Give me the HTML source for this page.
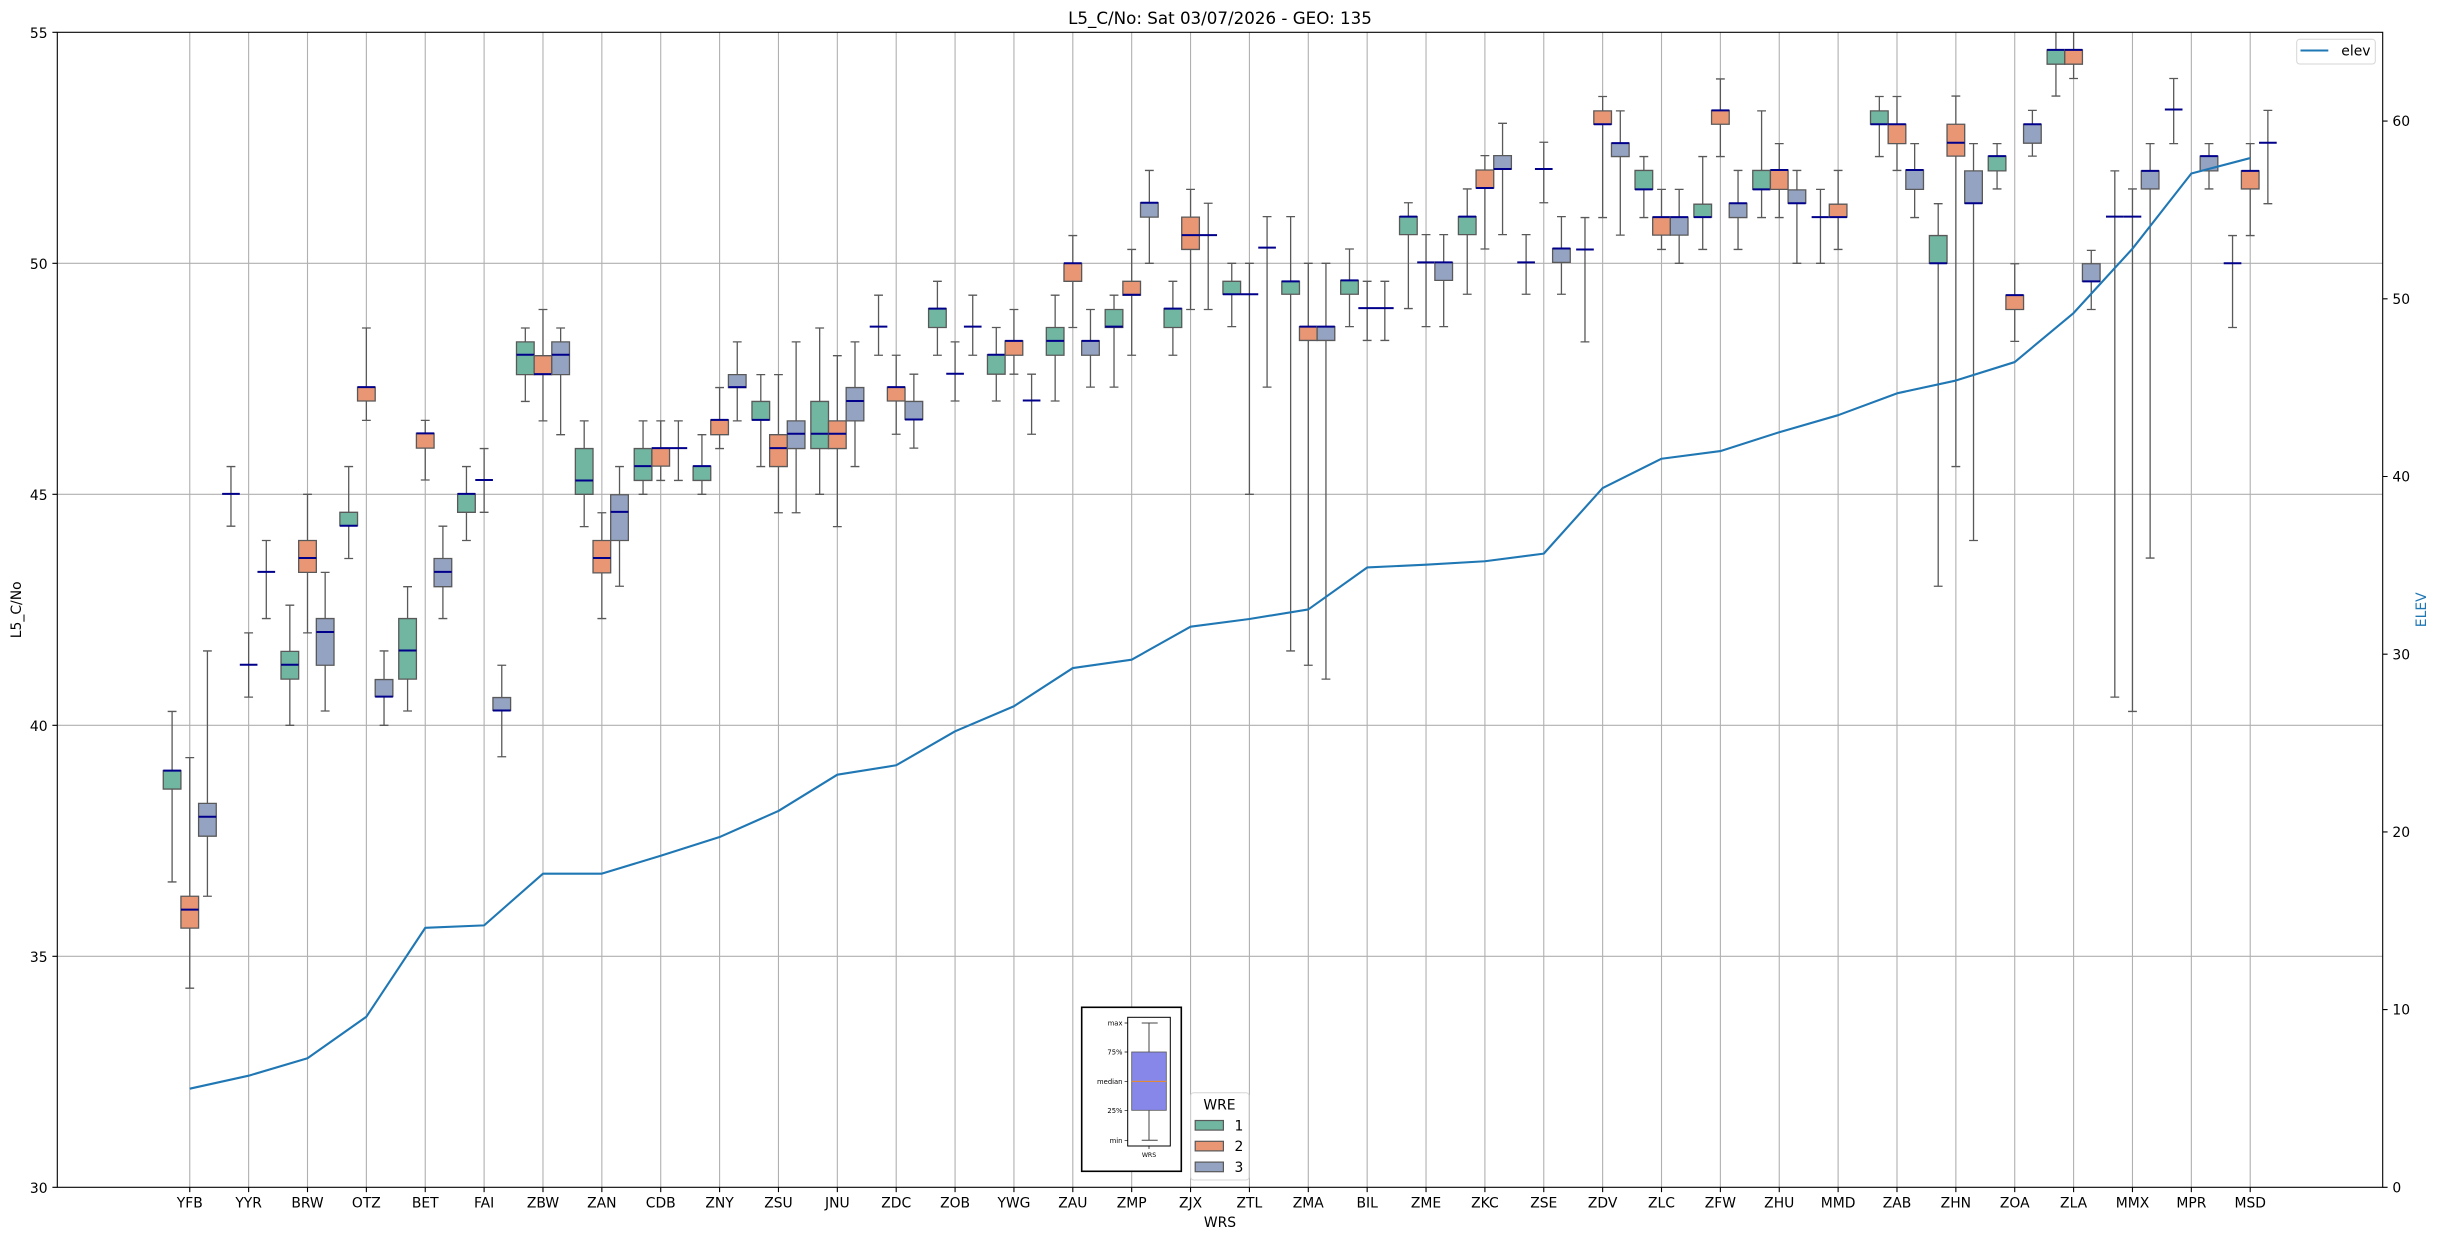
<!DOCTYPE html>
<html><head><meta charset="utf-8"><style>
html,body{margin:0;padding:0;background:#fff;}
svg{display:block;}
text{font-family:"DejaVu Sans","Liberation Sans",sans-serif;fill:#000;}
.w{fill:none;stroke:#595959;stroke-width:1.3px;vector-effect:non-scaling-stroke;}
.r1,.r2,.r3{stroke:#595959;stroke-width:1.3px;vector-effect:non-scaling-stroke;}
.r1{fill:#71b6a1}.r2{fill:#e99675}.r3{fill:#95a3c3}
.m{fill:none;stroke:#00008b;stroke-width:2px;vector-effect:non-scaling-stroke;}
.g{fill:none;stroke:#b0b0b0;stroke-width:1.1px;vector-effect:non-scaling-stroke;}
.t{fill:none;stroke:#000;stroke-width:1.1px;vector-effect:non-scaling-stroke;}
.el{fill:none;stroke:#1f77b4;stroke-width:2.1px;vector-effect:non-scaling-stroke;stroke-linejoin:round;}
</style></head><body>
<svg width="2438" height="1240" viewBox="0 0 2438 1240" xmlns="http://www.w3.org/2000/svg">
<defs><clipPath id="c"><rect x="57.3" y="32.3" width="2325.4" height="1155"/></clipPath></defs>
<rect width="2438" height="1240" fill="#fff"/>

<!-- horizontal grid -->
<path d="M57.3 263.3H2382.7M57.3 494.3H2382.7M57.3 725.3H2382.7M57.3 956.3H2382.7" stroke="#b0b0b0" stroke-width="1.1" fill="none"/>

<g clip-path="url(#c)">
<g transform="translate(189.76 2573.3) scale(58.87 -46.2)">
<path class="g" d="M0 30V55M1 30V55M2 30V55M3 30V55M4 30V55M5 30V55M6 30V55M7 30V55M8 30V55M9 30V55M10 30V55M11 30V55M12 30V55M13 30V55M14 30V55M15 30V55M16 30V55M17 30V55M18 30V55M19 30V55M20 30V55M21 30V55M22 30V55M23 30V55M24 30V55M25 30V55M26 30V55M27 30V55M28 30V55M29 30V55M30 30V55M31 30V55M32 30V55M33 30V55M34 30V55M35 30V55"/>

<!-- 0 YFB -->
<g transform="translate(-0.3 0)"><path class="w" d="M0 36.61V38.62M0 39.02V40.3M-.075 36.61H.075M-.075 40.3H.075"/><rect class="r1" x="-.15" y="38.62" width=".3" height=".4"/><path class="m" d="M-.15 39.02H.15"/></g>
<g transform="translate(0 0)"><path class="w" d="M0 34.31V35.61M0 36.3V39.3M-.075 34.31H.075M-.075 39.3H.075"/><rect class="r2" x="-.15" y="35.61" width=".3" height=".69"/><path class="m" d="M-.15 36.01H.15"/></g>
<g transform="translate(0.3 0)"><path class="w" d="M0 36.3V37.6M0 38.31V41.61M-.075 36.3H.075M-.075 41.61H.075"/><rect class="r3" x="-.15" y="37.6" width=".3" height=".71"/><path class="m" d="M-.15 38.02H.15"/></g>
<!-- 1 YYR -->
<g transform="translate(0.7 0)"><path class="w" d="M0 44.31V45.6M-.075 44.31H.075M-.075 45.6H.075"/><path class="m" d="M-.15 45.01H.15"/></g>
<g transform="translate(1 0)"><path class="w" d="M0 40.61V42M-.075 40.61H.075M-.075 42H.075"/><path class="m" d="M-.15 41.31H.15"/></g>
<g transform="translate(1.3 0)"><path class="w" d="M0 42.31V44M-.075 42.31H.075M-.075 44H.075"/><path class="m" d="M-.15 43.32H.15"/></g>
<!-- 2 BRW -->
<g transform="translate(1.7 0)"><path class="w" d="M0 40V41M0 41.6V42.6M-.075 40H.075M-.075 42.6H.075"/><rect class="r1" x="-.15" y="41" width=".3" height=".6"/><path class="m" d="M-.15 41.31H.15"/></g>
<g transform="translate(2 0)"><path class="w" d="M0 42V43.31M0 44V45M-.075 42H.075M-.075 45H.075"/><rect class="r2" x="-.15" y="43.31" width=".3" height=".69"/><path class="m" d="M-.15 43.62H.15"/></g>
<g transform="translate(2.3 0)"><path class="w" d="M0 40.31V41.3M0 42.31V43.31M-.075 40.31H.075M-.075 43.31H.075"/><rect class="r3" x="-.15" y="41.3" width=".3" height="1.01"/><path class="m" d="M-.15 42.02H.15"/></g>
<!-- 3 OTZ -->
<g transform="translate(2.7 0)"><path class="w" d="M0 43.61V44.32M0 44.61V45.6M-.075 43.61H.075M-.075 45.6H.075"/><rect class="r1" x="-.15" y="44.32" width=".3" height=".29"/><path class="m" d="M-.15 44.32H.15"/></g>
<g transform="translate(3 0)"><path class="w" d="M0 46.6V47.02M0 47.32V48.6M-.075 46.6H.075M-.075 48.6H.075"/><rect class="r2" x="-.15" y="47.02" width=".3" height=".3"/><path class="m" d="M-.15 47.32H.15"/></g>
<g transform="translate(3.3 0)"><path class="w" d="M0 40V40.62M0 40.99V41.61M-.075 40H.075M-.075 41.61H.075"/><rect class="r3" x="-.15" y="40.62" width=".3" height=".37"/><path class="m" d="M-.15 40.62H.15"/></g>
<!-- 4 BET -->
<g transform="translate(3.7 0)"><path class="w" d="M0 40.31V41M0 42.31V43M-.075 40.31H.075M-.075 43H.075"/><rect class="r1" x="-.15" y="41" width=".3" height="1.31"/><path class="m" d="M-.15 41.62H.15"/></g>
<g transform="translate(4 0)"><path class="w" d="M0 45.31V46M0 46.32V46.6M-.075 45.31H.075M-.075 46.6H.075"/><rect class="r2" x="-.15" y="46" width=".3" height=".32"/><path class="m" d="M-.15 46.32H.15"/></g>
<g transform="translate(4.3 0)"><path class="w" d="M0 42.31V43M0 43.61V44.31M-.075 42.31H.075M-.075 44.31H.075"/><rect class="r3" x="-.15" y="43" width=".3" height=".61"/><path class="m" d="M-.15 43.32H.15"/></g>
<!-- 5 FAI -->
<g transform="translate(4.7 0)"><path class="w" d="M0 44V44.61M0 45.01V45.6M-.075 44H.075M-.075 45.6H.075"/><rect class="r1" x="-.15" y="44.61" width=".3" height=".4"/><path class="m" d="M-.15 45.01H.15"/></g>
<g transform="translate(5 0)"><path class="w" d="M0 44.61V45.99M-.075 44.61H.075M-.075 45.99H.075"/><path class="m" d="M-.15 45.31H.15"/></g>
<g transform="translate(5.3 0)"><path class="w" d="M0 39.32V40.32M0 40.6V41.3M-.075 39.32H.075M-.075 41.3H.075"/><rect class="r3" x="-.15" y="40.32" width=".3" height=".28"/><path class="m" d="M-.15 40.32H.15"/></g>
<!-- 6 ZBW -->
<g transform="translate(5.7 0)"><path class="w" d="M0 47.01V47.59M0 48.3V48.6M-.075 47.01H.075M-.075 48.6H.075"/><rect class="r1" x="-.15" y="47.59" width=".3" height=".71"/><path class="m" d="M-.15 48.02H.15"/></g>
<g transform="translate(6 0)"><path class="w" d="M0 46.59V47.59M0 48V49M-.075 46.59H.075M-.075 49H.075"/><rect class="r2" x="-.15" y="47.59" width=".3" height=".41"/><path class="m" d="M-.15 47.6H.15"/></g>
<g transform="translate(6.3 0)"><path class="w" d="M0 46.29V47.59M0 48.3V48.6M-.075 46.29H.075M-.075 48.6H.075"/><rect class="r3" x="-.15" y="47.59" width=".3" height=".71"/><path class="m" d="M-.15 48.02H.15"/></g>
<!-- 7 ZAN -->
<g transform="translate(6.7 0)"><path class="w" d="M0 44.3V45M0 45.99V46.59M-.075 44.3H.075M-.075 46.59H.075"/><rect class="r1" x="-.15" y="45" width=".3" height=".99"/><path class="m" d="M-.15 45.3H.15"/></g>
<g transform="translate(7 0)"><path class="w" d="M0 42.31V43.3M0 44V44.6M-.075 42.31H.075M-.075 44.6H.075"/><rect class="r2" x="-.15" y="43.3" width=".3" height=".7"/><path class="m" d="M-.15 43.62H.15"/></g>
<g transform="translate(7.3 0)"><path class="w" d="M0 43.01V44M0 44.99V45.6M-.075 43.01H.075M-.075 45.6H.075"/><rect class="r3" x="-.15" y="44" width=".3" height=".99"/><path class="m" d="M-.15 44.62H.15"/></g>
<!-- 8 CDB -->
<g transform="translate(7.7 0)"><path class="w" d="M0 45V45.3M0 45.99V46.59M-.075 45H.075M-.075 46.59H.075"/><rect class="r1" x="-.15" y="45.3" width=".3" height=".69"/><path class="m" d="M-.15 45.61H.15"/></g>
<g transform="translate(8 0)"><path class="w" d="M0 45.3V45.61M0 46V46.59M-.075 45.3H.075M-.075 46.59H.075"/><rect class="r2" x="-.15" y="45.61" width=".3" height=".39"/><path class="m" d="M-.15 46H.15"/></g>
<g transform="translate(8.3 0)"><path class="w" d="M0 45.3V46.59M-.075 45.3H.075M-.075 46.59H.075"/><path class="m" d="M-.15 46H.15"/></g>
<!-- 9 ZNY -->
<g transform="translate(8.7 0)"><path class="w" d="M0 45V45.3M0 45.61V46.29M-.075 45H.075M-.075 46.29H.075"/><rect class="r1" x="-.15" y="45.3" width=".3" height=".31"/><path class="m" d="M-.15 45.61H.15"/></g>
<g transform="translate(9 0)"><path class="w" d="M0 45.99V46.29M0 46.61V47.31M-.075 45.99H.075M-.075 47.31H.075"/><rect class="r2" x="-.15" y="46.29" width=".3" height=".32"/><path class="m" d="M-.15 46.61H.15"/></g>
<g transform="translate(9.3 0)"><path class="w" d="M0 46.59V47.31M0 47.59V48.3M-.075 46.59H.075M-.075 48.3H.075"/><rect class="r3" x="-.15" y="47.31" width=".3" height=".28"/><path class="m" d="M-.15 47.32H.15"/></g>
<!-- 10 ZSU -->
<g transform="translate(9.7 0)"><path class="w" d="M0 45.6V46.61M0 47.01V47.59M-.075 45.6H.075M-.075 47.59H.075"/><rect class="r1" x="-.15" y="46.61" width=".3" height=".4"/><path class="m" d="M-.15 46.61H.15"/></g>
<g transform="translate(10 0)"><path class="w" d="M0 44.6V45.6M0 46.29V47.59M-.075 44.6H.075M-.075 47.59H.075"/><rect class="r2" x="-.15" y="45.6" width=".3" height=".69"/><path class="m" d="M-.15 46H.15"/></g>
<g transform="translate(10.3 0)"><path class="w" d="M0 44.6V45.99M0 46.59V48.3M-.075 44.6H.075M-.075 48.3H.075"/><rect class="r3" x="-.15" y="45.99" width=".3" height=".6"/><path class="m" d="M-.15 46.31H.15"/></g>
<!-- 11 JNU -->
<g transform="translate(10.7 0)"><path class="w" d="M0 45V45.99M0 47.01V48.6M-.075 45H.075M-.075 48.6H.075"/><rect class="r1" x="-.15" y="45.99" width=".3" height="1.02"/><path class="m" d="M-.15 46.31H.15"/></g>
<g transform="translate(11 0)"><path class="w" d="M0 44.3V45.99M0 46.59V48M-.075 44.3H.075M-.075 48H.075"/><rect class="r2" x="-.15" y="45.99" width=".3" height=".6"/><path class="m" d="M-.15 46.31H.15"/></g>
<g transform="translate(11.3 0)"><path class="w" d="M0 45.6V46.59M0 47.31V48.3M-.075 45.6H.075M-.075 48.3H.075"/><rect class="r3" x="-.15" y="46.59" width=".3" height=".72"/><path class="m" d="M-.15 47.02H.15"/></g>
<!-- 12 ZDC -->
<g transform="translate(11.7 0)"><path class="w" d="M0 48.01V49.31M-.075 48.01H.075M-.075 49.31H.075"/><path class="m" d="M-.15 48.63H.15"/></g>
<g transform="translate(12 0)"><path class="w" d="M0 46.3V47.02M0 47.32V48.01M-.075 46.3H.075M-.075 48.01H.075"/><rect class="r2" x="-.15" y="47.02" width=".3" height=".3"/><path class="m" d="M-.15 47.32H.15"/></g>
<g transform="translate(12.3 0)"><path class="w" d="M0 46V46.62M0 47.01V47.6M-.075 46H.075M-.075 47.6H.075"/><rect class="r3" x="-.15" y="46.62" width=".3" height=".39"/><path class="m" d="M-.15 46.62H.15"/></g>
<!-- 13 ZOB -->
<g transform="translate(12.7 0)"><path class="w" d="M0 48.01V48.61M0 49.02V49.61M-.075 48.01H.075M-.075 49.61H.075"/><rect class="r1" x="-.15" y="48.61" width=".3" height=".41"/><path class="m" d="M-.15 49.02H.15"/></g>
<g transform="translate(13 0)"><path class="w" d="M0 47.02V48.3M-.075 47.02H.075M-.075 48.3H.075"/><path class="m" d="M-.15 47.61H.15"/></g>
<g transform="translate(13.3 0)"><path class="w" d="M0 48.01V49.31M-.075 48.01H.075M-.075 49.31H.075"/><path class="m" d="M-.15 48.63H.15"/></g>
<!-- 14 YWG -->
<g transform="translate(13.7 0)"><path class="w" d="M0 47.02V47.6M0 48.02V48.61M-.075 47.02H.075M-.075 48.61H.075"/><rect class="r1" x="-.15" y="47.6" width=".3" height=".42"/><path class="m" d="M-.15 48.02H.15"/></g>
<g transform="translate(14 0)"><path class="w" d="M0 47.6V48.01M0 48.32V49M-.075 47.6H.075M-.075 49H.075"/><rect class="r2" x="-.15" y="48.01" width=".3" height=".31"/><path class="m" d="M-.15 48.32H.15"/></g>
<g transform="translate(14.3 0)"><path class="w" d="M0 46.3V47.6M-.075 46.3H.075M-.075 47.6H.075"/><path class="m" d="M-.15 47.03H.15"/></g>
<!-- 15 ZAU -->
<g transform="translate(14.7 0)"><path class="w" d="M0 47.02V48.01M0 48.61V49.31M-.075 47.02H.075M-.075 49.31H.075"/><rect class="r1" x="-.15" y="48.01" width=".3" height=".6"/><path class="m" d="M-.15 48.32H.15"/></g>
<g transform="translate(15 0)"><path class="w" d="M0 48.61V49.61M0 50V50.6M-.075 48.61H.075M-.075 50.6H.075"/><rect class="r2" x="-.15" y="49.61" width=".3" height=".39"/><path class="m" d="M-.15 50H.15"/></g>
<g transform="translate(15.3 0)"><path class="w" d="M0 47.32V48.01M0 48.32V49M-.075 47.32H.075M-.075 49H.075"/><rect class="r3" x="-.15" y="48.01" width=".3" height=".31"/><path class="m" d="M-.15 48.32H.15"/></g>
<!-- 16 ZMP -->
<g transform="translate(15.7 0)"><path class="w" d="M0 47.32V48.61M0 49V49.31M-.075 47.32H.075M-.075 49.31H.075"/><rect class="r1" x="-.15" y="48.61" width=".3" height=".39"/><path class="m" d="M-.15 48.63H.15"/></g>
<g transform="translate(16 0)"><path class="w" d="M0 48.01V49.31M0 49.61V50.3M-.075 48.01H.075M-.075 50.3H.075"/><rect class="r2" x="-.15" y="49.31" width=".3" height=".3"/><path class="m" d="M-.15 49.32H.15"/></g>
<g transform="translate(16.3 0)"><path class="w" d="M0 50V51M0 51.31V52.01M-.075 50H.075M-.075 52.01H.075"/><rect class="r3" x="-.15" y="51" width=".3" height=".31"/><path class="m" d="M-.15 51.31H.15"/></g>
<!-- 17 ZJX -->
<g transform="translate(16.7 0)"><path class="w" d="M0 48.01V48.61M0 49.02V49.61M-.075 48.01H.075M-.075 49.61H.075"/><rect class="r1" x="-.15" y="48.61" width=".3" height=".41"/><path class="m" d="M-.15 49.02H.15"/></g>
<g transform="translate(17 0)"><path class="w" d="M0 49V50.3M0 51V51.6M-.075 49H.075M-.075 51.6H.075"/><rect class="r2" x="-.15" y="50.3" width=".3" height=".7"/><path class="m" d="M-.15 50.61H.15"/></g>
<g transform="translate(17.3 0)"><path class="w" d="M0 49V51.3M-.075 49H.075M-.075 51.3H.075"/><path class="m" d="M-.15 50.61H.15"/></g>
<!-- 18 ZTL -->
<g transform="translate(17.7 0)"><path class="w" d="M0 48.63V49.33M0 49.61V50M-.075 48.63H.075M-.075 50H.075"/><rect class="r1" x="-.15" y="49.33" width=".3" height=".28"/><path class="m" d="M-.15 49.33H.15"/></g>
<g transform="translate(18 0)"><path class="w" d="M0 45V50M-.075 45H.075M-.075 50H.075"/><path class="m" d="M-.15 49.33H.15"/></g>
<g transform="translate(18.3 0)"><path class="w" d="M0 47.32V51.01M-.075 47.32H.075M-.075 51.01H.075"/><path class="m" d="M-.15 50.34H.15"/></g>
<!-- 19 ZMA -->
<g transform="translate(18.7 0)"><path class="w" d="M0 41.61V49.33M0 49.61V51.01M-.075 41.61H.075M-.075 51.01H.075"/><rect class="r1" x="-.15" y="49.33" width=".3" height=".28"/><path class="m" d="M-.15 49.61H.15"/></g>
<g transform="translate(19 0)"><path class="w" d="M0 41.3V48.33M0 48.63V50M-.075 41.3H.075M-.075 50H.075"/><rect class="r2" x="-.15" y="48.33" width=".3" height=".3"/><path class="m" d="M-.15 48.63H.15"/></g>
<g transform="translate(19.3 0)"><path class="w" d="M0 41V48.33M0 48.63V50M-.075 41H.075M-.075 50H.075"/><rect class="r3" x="-.15" y="48.33" width=".3" height=".3"/><path class="m" d="M-.15 48.63H.15"/></g>
<!-- 20 BIL -->
<g transform="translate(19.7 0)"><path class="w" d="M0 48.63V49.33M0 49.63V50.31M-.075 48.63H.075M-.075 50.31H.075"/><rect class="r1" x="-.15" y="49.33" width=".3" height=".3"/><path class="m" d="M-.15 49.63H.15"/></g>
<g transform="translate(20 0)"><path class="w" d="M0 48.33V49.61M-.075 48.33H.075M-.075 49.61H.075"/><path class="m" d="M-.15 49.03H.15"/></g>
<g transform="translate(20.3 0)"><path class="w" d="M0 48.33V49.61M-.075 48.33H.075M-.075 49.61H.075"/><path class="m" d="M-.15 49.03H.15"/></g>
<!-- 21 ZME -->
<g transform="translate(20.7 0)"><path class="w" d="M0 49.02V50.62M0 51.01V51.31M-.075 49.02H.075M-.075 51.31H.075"/><rect class="r1" x="-.15" y="50.62" width=".3" height=".39"/><path class="m" d="M-.15 51.01H.15"/></g>
<g transform="translate(21 0)"><path class="w" d="M0 48.63V50.62M-.075 48.63H.075M-.075 50.62H.075"/><path class="m" d="M-.15 50.02H.15"/></g>
<g transform="translate(21.3 0)"><path class="w" d="M0 48.63V49.63M0 50.02V50.62M-.075 48.63H.075M-.075 50.62H.075"/><rect class="r3" x="-.15" y="49.63" width=".3" height=".39"/><path class="m" d="M-.15 50.02H.15"/></g>
<!-- 22 ZKC -->
<g transform="translate(21.7 0)"><path class="w" d="M0 49.33V50.62M0 51.01V51.61M-.075 49.33H.075M-.075 51.61H.075"/><rect class="r1" x="-.15" y="50.62" width=".3" height=".39"/><path class="m" d="M-.15 51.01H.15"/></g>
<g transform="translate(22 0)"><path class="w" d="M0 50.31V51.63M0 52.02V52.33M-.075 50.31H.075M-.075 52.33H.075"/><rect class="r2" x="-.15" y="51.63" width=".3" height=".39"/><path class="m" d="M-.15 51.63H.15"/></g>
<g transform="translate(22.3 0)"><path class="w" d="M0 50.62V52.04M0 52.33V53.03M-.075 50.62H.075M-.075 53.03H.075"/><rect class="r3" x="-.15" y="52.04" width=".3" height=".29"/><path class="m" d="M-.15 52.04H.15"/></g>
<!-- 23 ZSE -->
<g transform="translate(22.7 0)"><path class="w" d="M0 49.33V50.62M-.075 49.33H.075M-.075 50.62H.075"/><path class="m" d="M-.15 50.02H.15"/></g>
<g transform="translate(23 0)"><path class="w" d="M0 51.31V52.62M-.075 51.31H.075M-.075 52.62H.075"/><path class="m" d="M-.15 52.04H.15"/></g>
<g transform="translate(23.3 0)"><path class="w" d="M0 49.33V50.02M0 50.32V51.01M-.075 49.33H.075M-.075 51.01H.075"/><rect class="r3" x="-.15" y="50.02" width=".3" height=".3"/><path class="m" d="M-.15 50.32H.15"/></g>
<!-- 24 ZDV -->
<g transform="translate(23.7 0)"><path class="w" d="M0 48.3V50.99M-.075 48.3H.075M-.075 50.99H.075"/><path class="m" d="M-.15 50.3H.15"/></g>
<g transform="translate(24 0)"><path class="w" d="M0 50.99V53.01M0 53.3V53.61M-.075 50.99H.075M-.075 53.61H.075"/><rect class="r2" x="-.15" y="53.01" width=".3" height=".29"/><path class="m" d="M-.15 53.01H.15"/></g>
<g transform="translate(24.3 0)"><path class="w" d="M0 50.61V52.31M0 52.6V53.3M-.075 50.61H.075M-.075 53.3H.075"/><rect class="r3" x="-.15" y="52.31" width=".3" height=".29"/><path class="m" d="M-.15 52.6H.15"/></g>
<!-- 25 ZLC -->
<g transform="translate(24.7 0)"><path class="w" d="M0 50.99V51.6M0 52.01V52.31M-.075 50.99H.075M-.075 52.31H.075"/><rect class="r1" x="-.15" y="51.6" width=".3" height=".41"/><path class="m" d="M-.15 51.6H.15"/></g>
<g transform="translate(25 0)"><path class="w" d="M0 50.3V50.61M0 51V51.6M-.075 50.3H.075M-.075 51.6H.075"/><rect class="r2" x="-.15" y="50.61" width=".3" height=".39"/><path class="m" d="M-.15 51H.15"/></g>
<g transform="translate(25.3 0)"><path class="w" d="M0 50V50.61M0 51V51.6M-.075 50H.075M-.075 51.6H.075"/><rect class="r3" x="-.15" y="50.61" width=".3" height=".39"/><path class="m" d="M-.15 51H.15"/></g>
<!-- 26 ZFW -->
<g transform="translate(25.7 0)"><path class="w" d="M0 50.3V51M0 51.28V52.31M-.075 50.3H.075M-.075 52.31H.075"/><rect class="r1" x="-.15" y="51" width=".3" height=".28"/><path class="m" d="M-.15 51H.15"/></g>
<g transform="translate(26 0)"><path class="w" d="M0 52.31V53.01M0 53.31V53.99M-.075 52.31H.075M-.075 53.99H.075"/><rect class="r2" x="-.15" y="53.01" width=".3" height=".3"/><path class="m" d="M-.15 53.31H.15"/></g>
<g transform="translate(26.3 0)"><path class="w" d="M0 50.3V50.99M0 51.3V52.01M-.075 50.3H.075M-.075 52.01H.075"/><rect class="r3" x="-.15" y="50.99" width=".3" height=".31"/><path class="m" d="M-.15 51.3H.15"/></g>
<!-- 27 ZHU -->
<g transform="translate(26.7 0)"><path class="w" d="M0 50.99V51.6M0 52.01V53.3M-.075 50.99H.075M-.075 53.3H.075"/><rect class="r1" x="-.15" y="51.6" width=".3" height=".41"/><path class="m" d="M-.15 51.6H.15"/></g>
<g transform="translate(27 0)"><path class="w" d="M0 50.99V51.6M0 52.02V52.59M-.075 50.99H.075M-.075 52.59H.075"/><rect class="r2" x="-.15" y="51.6" width=".3" height=".42"/><path class="m" d="M-.15 52.02H.15"/></g>
<g transform="translate(27.3 0)"><path class="w" d="M0 50V51.3M0 51.59V52.01M-.075 50H.075M-.075 52.01H.075"/><rect class="r3" x="-.15" y="51.3" width=".3" height=".29"/><path class="m" d="M-.15 51.3H.15"/></g>
<!-- 28 MMD -->
<g transform="translate(27.7 0)"><path class="w" d="M0 50V51.6M-.075 50H.075M-.075 51.6H.075"/><path class="m" d="M-.15 51H.15"/></g>
<g transform="translate(28 0)"><path class="w" d="M0 50.3V51M0 51.28V52.01M-.075 50.3H.075M-.075 52.01H.075"/><rect class="r2" x="-.15" y="51" width=".3" height=".28"/><path class="m" d="M-.15 51H.15"/></g>
<!-- 29 ZAB -->
<g transform="translate(28.7 0)"><path class="w" d="M0 52.31V53.01M0 53.3V53.61M-.075 52.31H.075M-.075 53.61H.075"/><rect class="r1" x="-.15" y="53.01" width=".3" height=".29"/><path class="m" d="M-.15 53.01H.15"/></g>
<g transform="translate(29 0)"><path class="w" d="M0 52.01V52.59M0 53.01V53.61M-.075 52.01H.075M-.075 53.61H.075"/><rect class="r2" x="-.15" y="52.59" width=".3" height=".42"/><path class="m" d="M-.15 53.01H.15"/></g>
<g transform="translate(29.3 0)"><path class="w" d="M0 50.99V51.6M0 52.02V52.59M-.075 50.99H.075M-.075 52.59H.075"/><rect class="r3" x="-.15" y="51.6" width=".3" height=".42"/><path class="m" d="M-.15 52.02H.15"/></g>
<!-- 30 ZHN -->
<g transform="translate(29.7 0)"><path class="w" d="M0 43.01V50M0 50.6V51.29M-.075 43.01H.075M-.075 51.29H.075"/><rect class="r1" x="-.15" y="50" width=".3" height=".6"/><path class="m" d="M-.15 50H.15"/></g>
<g transform="translate(30 0)"><path class="w" d="M0 45.6V52.32M0 53.01V53.62M-.075 45.6H.075M-.075 53.62H.075"/><rect class="r2" x="-.15" y="52.32" width=".3" height=".69"/><path class="m" d="M-.15 52.61H.15"/></g>
<g transform="translate(30.3 0)"><path class="w" d="M0 44V51.3M0 52V52.59M-.075 44H.075M-.075 52.59H.075"/><rect class="r3" x="-.15" y="51.3" width=".3" height=".7"/><path class="m" d="M-.15 51.3H.15"/></g>
<!-- 31 ZOA -->
<g transform="translate(30.7 0)"><path class="w" d="M0 51.61V52M0 52.32V52.59M-.075 51.61H.075M-.075 52.59H.075"/><rect class="r1" x="-.15" y="52" width=".3" height=".32"/><path class="m" d="M-.15 52.32H.15"/></g>
<g transform="translate(31 0)"><path class="w" d="M0 48.31V49M0 49.31V49.99M-.075 48.31H.075M-.075 49.99H.075"/><rect class="r2" x="-.15" y="49" width=".3" height=".31"/><path class="m" d="M-.15 49.31H.15"/></g>
<g transform="translate(31.3 0)"><path class="w" d="M0 52.32V52.6M0 53.01V53.31M-.075 52.32H.075M-.075 53.31H.075"/><rect class="r3" x="-.15" y="52.6" width=".3" height=".41"/><path class="m" d="M-.15 53.01H.15"/></g>
<!-- 32 ZLA -->
<g transform="translate(31.7 0)"><path class="w" d="M0 53.62V54.31M0 54.62V55.5M-.075 53.62H.075M-.075 55.5H.075"/><rect class="r1" x="-.15" y="54.31" width=".3" height=".31"/><path class="m" d="M-.15 54.62H.15"/></g>
<g transform="translate(32 0)"><path class="w" d="M0 54V54.31M0 54.62V55.5M-.075 54H.075M-.075 55.5H.075"/><rect class="r2" x="-.15" y="54.31" width=".3" height=".31"/><path class="m" d="M-.15 54.62H.15"/></g>
<g transform="translate(32.3 0)"><path class="w" d="M0 49V49.61M0 49.99V50.28M-.075 49H.075M-.075 50.28H.075"/><rect class="r3" x="-.15" y="49.61" width=".3" height=".38"/><path class="m" d="M-.15 49.61H.15"/></g>
<!-- 33 MMX -->
<g transform="translate(32.7 0)"><path class="w" d="M0 40.61V52M-.075 40.61H.075M-.075 52H.075"/><path class="m" d="M-.15 51.01H.15"/></g>
<g transform="translate(33 0)"><path class="w" d="M0 40.3V51.61M-.075 40.3H.075M-.075 51.61H.075"/><path class="m" d="M-.15 51.01H.15"/></g>
<g transform="translate(33.3 0)"><path class="w" d="M0 43.62V51.61M0 52V52.59M-.075 43.62H.075M-.075 52.59H.075"/><rect class="r3" x="-.15" y="51.61" width=".3" height=".39"/><path class="m" d="M-.15 52H.15"/></g>
<!-- 34 MPR -->
<g transform="translate(33.7 0)"><path class="w" d="M0 52.59V54M-.075 52.59H.075M-.075 54H.075"/><path class="m" d="M-.15 53.33H.15"/></g>
<g transform="translate(34.3 0)"><path class="w" d="M0 51.61V52M0 52.32V52.59M-.075 51.61H.075M-.075 52.59H.075"/><rect class="r3" x="-.15" y="52" width=".3" height=".32"/><path class="m" d="M-.15 52.32H.15"/></g>
<!-- 35 MSD -->
<g transform="translate(34.7 0)"><path class="w" d="M0 48.61V50.6M-.075 48.61H.075M-.075 50.6H.075"/><path class="m" d="M-.15 50H.15"/></g>
<g transform="translate(35 0)"><path class="w" d="M0 50.6V51.61M0 52V52.59M-.075 50.6H.075M-.075 52.59H.075"/><rect class="r2" x="-.15" y="51.61" width=".3" height=".39"/><path class="m" d="M-.15 52H.15"/></g>
<g transform="translate(35.3 0)"><path class="w" d="M0 51.29V53.31M-.075 51.29H.075M-.075 53.31H.075"/><path class="m" d="M-.15 52.61H.15"/></g>

<!-- x ticks -->
<path class="t" d="M0 30V29.895M1 30V29.895M2 30V29.895M3 30V29.895M4 30V29.895M5 30V29.895M6 30V29.895M7 30V29.895M8 30V29.895M9 30V29.895M10 30V29.895M11 30V29.895M12 30V29.895M13 30V29.895M14 30V29.895M15 30V29.895M16 30V29.895M17 30V29.895M18 30V29.895M19 30V29.895M20 30V29.895M21 30V29.895M22 30V29.895M23 30V29.895M24 30V29.895M25 30V29.895M26 30V29.895M27 30V29.895M28 30V29.895M29 30V29.895M30 30V29.895M31 30V29.895M32 30V29.895M33 30V29.895M34 30V29.895M35 30V29.895"/>
</g>
</g>
<!-- bottom ticks outside clip -->
<g transform="translate(189.76 2573.3) scale(58.87 -46.2)">
<path class="t" d="M0 30V29.895M1 30V29.895M2 30V29.895M3 30V29.895M4 30V29.895M5 30V29.895M6 30V29.895M7 30V29.895M8 30V29.895M9 30V29.895M10 30V29.895M11 30V29.895M12 30V29.895M13 30V29.895M14 30V29.895M15 30V29.895M16 30V29.895M17 30V29.895M18 30V29.895M19 30V29.895M20 30V29.895M21 30V29.895M22 30V29.895M23 30V29.895M24 30V29.895M25 30V29.895M26 30V29.895M27 30V29.895M28 30V29.895M29 30V29.895M30 30V29.895M31 30V29.895M32 30V29.895M33 30V29.895M34 30V29.895M35 30V29.895"/>
</g>

<!-- inset explanation image -->
<rect x="1081.7" y="1007.3" width="99.6" height="164" fill="#fff" stroke="#000" stroke-width="1.6"/>
<rect x="1127.7" y="1017.3" width="42.6" height="128.7" fill="#fff" stroke="#000" stroke-width="1"/>
<path d="M1149 1023V1052M1149 1110.3V1140.3M1141.7 1023H1157.7M1141.7 1140.3H1157.7" stroke="#444" stroke-width="1" fill="none"/>
<rect x="1131.7" y="1052" width="34.6" height="58.3" fill="#8787e9" stroke="#555" stroke-width="0.8"/>
<path d="M1131.7 1081.3H1166.3" stroke="#ff8c00" stroke-width="0.8"/>
<path d="M1124.6 1023H1127.7M1124.6 1052H1127.7M1124.6 1081.3H1127.7M1124.6 1110.3H1127.7M1124.6 1140.3H1127.7M1149 1146V1149" stroke="#000" stroke-width="0.7"/>
<g font-size="6.8" text-anchor="end">
<text x="1122.5" y="1025.5">max</text>
<text x="1122.5" y="1054.5">75%</text>
<text x="1122.5" y="1083.8">median</text>
<text x="1122.5" y="1112.8">25%</text>
<text x="1122.5" y="1142.8">min</text>
</g>
<text x="1149" y="1157" font-size="6.2" text-anchor="middle">WRS</text>

<!-- WRE legend -->
<rect x="1190.7" y="1092.7" width="58.3" height="87.3" rx="3" fill="#fff" fill-opacity="0.8" stroke="#d6d6d6" stroke-width="1"/>
<text x="1219.5" y="1109.5" font-size="13.9" text-anchor="middle">WRE</text>
<rect x="1195.2" y="1120.5" width="28.2" height="9.6" fill="#71b6a1" stroke="#595959" stroke-width="1.2"/>
<rect x="1195.2" y="1141.3" width="28.2" height="9.6" fill="#e99675" stroke="#595959" stroke-width="1.2"/>
<rect x="1195.2" y="1162.1" width="28.2" height="9.6" fill="#95a3c3" stroke="#595959" stroke-width="1.2"/>
<text x="1234.5" y="1130.3" font-size="13.9">1</text>
<text x="1234.5" y="1151.1" font-size="13.9">2</text>
<text x="1234.5" y="1171.9" font-size="13.9">3</text>

<!-- elev line -->
<g clip-path="url(#c)">
<g transform="translate(189.76 1187.3) scale(58.87 -17.77)">
<polyline class="el" points="0,5.55 1,6.28 2,7.26 3,9.6 4,14.6 5,14.74 6,17.65 7,17.65 8,18.66 9,19.71 10,21.18 11,23.22 12,23.75 13,25.66 14,27.07 15,29.22 16,29.69 17,31.55 18,31.98 19,32.52 20,34.88 21,35.04 22,35.23 23,35.66 24,39.35 25,41.0 26,41.43 27,42.49 28,43.45 29,44.68 30,45.4 31,46.44 32,49.2 33,52.82 34,57.05 35,57.92"/>
</g>
</g>

<!-- spines -->
<rect x="57.3" y="32.3" width="2325.4" height="1155" fill="none" stroke="#000" stroke-width="1.1"/>

<!-- left ticks + labels -->
<path d="M52.4 32.3H57.3M52.4 263.3H57.3M52.4 494.3H57.3M52.4 725.3H57.3M52.4 956.3H57.3M52.4 1187.3H57.3" stroke="#000" stroke-width="1.1"/>
<g font-size="13.9" text-anchor="end">
<text x="47.6" y="37.8">55</text>
<text x="47.6" y="268.8">50</text>
<text x="47.6" y="499.8">45</text>
<text x="47.6" y="730.8">40</text>
<text x="47.6" y="961.8">35</text>
<text x="47.6" y="1192.8">30</text>
</g>
<text transform="translate(21 609.8) rotate(-90)" font-size="13.9" text-anchor="middle">L5_C/No</text>

<!-- right ticks + labels -->
<path d="M2382.7 1187.3H2387.6M2382.7 1009.6H2387.6M2382.7 831.9H2387.6M2382.7 654.2H2387.6M2382.7 476.5H2387.6M2382.7 298.8H2387.6M2382.7 121.1H2387.6" stroke="#000" stroke-width="1.1"/>
<g font-size="13.9" style="fill:#1f77b4">
<text x="2392.4" y="1192.4" fill="#1f77b4">0</text>
<text x="2392.4" y="1014.7" fill="#1f77b4">10</text>
<text x="2392.4" y="837" fill="#1f77b4">20</text>
<text x="2392.4" y="659.3" fill="#1f77b4">30</text>
<text x="2392.4" y="481.6" fill="#1f77b4">40</text>
<text x="2392.4" y="303.9" fill="#1f77b4">50</text>
<text x="2392.4" y="126.2" fill="#1f77b4">60</text>
</g>
<text transform="translate(2426 609.8) rotate(-90)" font-size="13.9" text-anchor="middle" style="fill:#1f77b4">ELEV</text>

<!-- x tick labels -->
<g font-size="13.9" text-anchor="middle">
<text x="189.76" y="1207.7">YFB</text>
<text x="248.63" y="1207.7">YYR</text>
<text x="307.5" y="1207.7">BRW</text>
<text x="366.37" y="1207.7">OTZ</text>
<text x="425.24" y="1207.7">BET</text>
<text x="484.11" y="1207.7">FAI</text>
<text x="542.98" y="1207.7">ZBW</text>
<text x="601.85" y="1207.7">ZAN</text>
<text x="660.72" y="1207.7">CDB</text>
<text x="719.59" y="1207.7">ZNY</text>
<text x="778.46" y="1207.7">ZSU</text>
<text x="837.33" y="1207.7">JNU</text>
<text x="896.2" y="1207.7">ZDC</text>
<text x="955.07" y="1207.7">ZOB</text>
<text x="1013.94" y="1207.7">YWG</text>
<text x="1072.81" y="1207.7">ZAU</text>
<text x="1131.68" y="1207.7">ZMP</text>
<text x="1190.55" y="1207.7">ZJX</text>
<text x="1249.42" y="1207.7">ZTL</text>
<text x="1308.29" y="1207.7">ZMA</text>
<text x="1367.16" y="1207.7">BIL</text>
<text x="1426.03" y="1207.7">ZME</text>
<text x="1484.9" y="1207.7">ZKC</text>
<text x="1543.77" y="1207.7">ZSE</text>
<text x="1602.64" y="1207.7">ZDV</text>
<text x="1661.51" y="1207.7">ZLC</text>
<text x="1720.38" y="1207.7">ZFW</text>
<text x="1779.25" y="1207.7">ZHU</text>
<text x="1838.12" y="1207.7">MMD</text>
<text x="1896.99" y="1207.7">ZAB</text>
<text x="1955.86" y="1207.7">ZHN</text>
<text x="2014.73" y="1207.7">ZOA</text>
<text x="2073.6" y="1207.7">ZLA</text>
<text x="2132.47" y="1207.7">MMX</text>
<text x="2191.34" y="1207.7">MPR</text>
<text x="2250.21" y="1207.7">MSD</text>
</g>
<text x="1220" y="1227" font-size="13.9" text-anchor="middle">WRS</text>

<!-- title -->
<text x="1220" y="24" font-size="16.7" text-anchor="middle">L5_C/No: Sat 03/07/2026 - GEO: 135</text>

<!-- elev legend -->
<rect x="2296.7" y="39.3" width="78.6" height="24.7" rx="3" fill="#fff" fill-opacity="0.8" stroke="#d6d6d6" stroke-width="1"/>
<path d="M2300.5 50.5H2328.3" stroke="#1f77b4" stroke-width="2.1"/>
<text x="2341.3" y="55.5" font-size="13.9">elev</text>
</svg>
</body></html>
